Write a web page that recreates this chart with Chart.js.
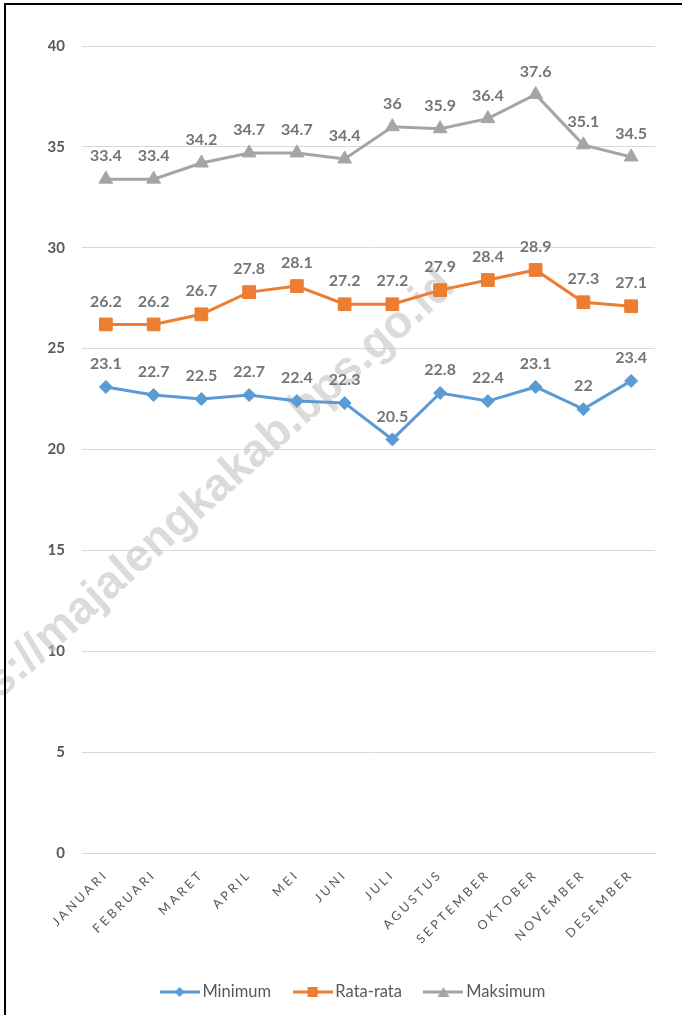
<!DOCTYPE html>
<html>
<head>
<meta charset="utf-8">
<script src="https://cdn.jsdelivr.net/npm/chart.js@4.4.0/dist/chart.umd.min.js"></script>
<style>
  html, body { margin: 0; padding: 0; background: #fff; }
  #wrap { width: 687px; height: 1015px; position: relative; }
</style>
</head>
<body>
<div id="wrap"><canvas id="canvas"></canvas></div>
<script>
// DATA
const months = ['JANUARI', 'FEBRUARI', 'MARET', 'APRIL', 'MEI', 'JUNI', 'JULI', 'AGUSTUS', 'SEPTEMBER', 'OKTOBER', 'NOVEMBER', 'DESEMBER'];
const minimum = [23.1, 22.7, 22.5, 22.7, 22.4, 22.3, 20.5, 22.8, 22.4, 23.1, 22, 23.4];
const rataRata = [26.2, 26.2, 26.7, 27.8, 28.1, 27.2, 27.2, 27.9, 28.4, 28.9, 27.3, 27.1];
const maksimum = [33.4, 33.4, 34.2, 34.7, 34.7, 34.4, 36, 35.9, 36.4, 37.6, 35.1, 34.5];
const yTicks = [0, 5, 10, 15, 20, 25, 30, 35, 40];

const BLUE = '#5B9BD5', ORANGE = '#ED7D31', GREY = '#A5A5A5';

// legend icons: short line with the marker in the middle
function makeIcon(color, shape) {
    const c = document.createElement('canvas');
    c.width = 40; c.height = 16;
    const g = c.getContext('2d');
    g.strokeStyle = color; g.fillStyle = color; g.lineWidth = 3;
    g.beginPath(); g.moveTo(0, 8); g.lineTo(40, 8); g.stroke();
    g.beginPath();
    if (shape === 'diamond') {
        g.moveTo(20, 3); g.lineTo(25, 8); g.lineTo(20, 13); g.lineTo(15, 8);
    } else if (shape === 'square') {
        g.rect(15, 3, 10, 10);
    } else {
        g.moveTo(20, 3); g.lineTo(26, 13); g.lineTo(14, 13);
    }
    g.closePath(); g.fill();
    return c;
}
const legendIcons = [makeIcon(BLUE, 'diamond'), makeIcon(ORANGE, 'square'), makeIcon(GREY, 'triangle')];

// value labels above each point, plus watermark / frame
const extras = {
    id: 'extras',
    beforeDatasetsDraw(chart) {
        const ctx = chart.ctx;
        ctx.save();
        ctx.translate(50, 655);
        ctx.rotate(-42 * Math.PI / 180);
        ctx.font = 'bold 46px "Liberation Sans", Arial, sans-serif';
        ctx.fillStyle = 'rgba(195,195,195,0.6)';
        ctx.textBaseline = 'alphabetic';
        const pre = ctx.measureText('https://').width;
        ctx.fillText('https://majalengkakab.bps.go.id', -pre, 0);
        ctx.restore();
    },
    afterDatasetsDraw(chart) {
        const ctx = chart.ctx;
        ctx.save();
        ctx.font = 'bold 16px Lato, sans-serif';
        ctx.fillStyle = '#757575';
        ctx.textAlign = 'center';
        ctx.textBaseline = 'middle';
        chart.data.datasets.forEach((ds, i) => {
            chart.getDatasetMeta(i).data.forEach((pt, j) => {
                ctx.fillText(String(ds.data[j]), pt.x, pt.y - 23);
            });
        });
        ctx.restore();
        // x tick labels are drawn next (z: 1), spaced out
        ctx.letterSpacing = '3px';
    },
    afterDraw(chart) {
        const ctx = chart.ctx;
        ctx.letterSpacing = '0px';
        ctx.save();
        ctx.strokeStyle = '#000';
        ctx.lineWidth = 2;
        ctx.beginPath();
        ctx.moveTo(5, 1015); ctx.lineTo(5, 4); ctx.lineTo(682, 4);
        ctx.stroke();
        ctx.restore();
    }
};

const ctx = document.getElementById('canvas').getContext('2d');

const myChart = new Chart(ctx, {
    type: 'line',
    data: {
        labels: months,
        datasets: [{
            label: 'Minimum',
            data: minimum,
            borderColor: BLUE,
            backgroundColor: BLUE,
            borderWidth: 3,
            pointStyle: 'rectRot',
            pointRadius: 6.5,
            pointBorderWidth: 1
        }, {
            label: 'Rata-rata',
            data: rataRata,
            borderColor: ORANGE,
            backgroundColor: ORANGE,
            borderWidth: 3,
            pointStyle: 'rect',
            pointRadius: 9,
            pointBorderWidth: 1
        }, {
            label: 'Maksimum',
            data: maksimum,
            borderColor: GREY,
            backgroundColor: GREY,
            borderWidth: 3,
            pointStyle: 'triangle',
            pointRadius: 8,
            pointBorderWidth: 1
        }]
    },
    options: {
        responsive: true,
        maintainAspectRatio: false,
        animation: false,
        layout: { padding: { top: 46, right: 24.5, bottom: 4.75, left: 48 } },
        plugins: {
            tooltip: { enabled: false },
            legend: {
                position: 'bottom',
                labels: {
                    usePointStyle: true,
                    pointStyleWidth: 29,
                    padding: 27,
                    color: '#595959',
                    font: { family: 'Lato', size: 16.5 },
                    generateLabels(chart) {
                        const items = Chart.defaults.plugins.legend.labels.generateLabels(chart);
                        items.forEach((it, i) => { it.pointStyle = legendIcons[i]; });
                        return items;
                    }
                }
            }
        },
        scales: {
            x: {
                offset: true,
                grid: { display: false },
                border: { color: '#d9d9d9' },
                ticks: {
                    z: 1,
                    minRotation: 45,
                    maxRotation: 45,
                    padding: 6,
                    color: '#595959',
                    font: { family: 'Lato', size: 12.5 }
                },
                afterFit(scale) { scale.height = 103.75; }
            },
            y: {
                min: 0,
                max: 40,
                afterBuildTicks(scale) { scale.ticks = yTicks.map(v => ({ value: v })); },
                grid: { color: '#d9d9d9', drawTicks: false },
                border: { display: false },
                ticks: {
                    padding: 17,
                    color: '#595959',
                    font: { family: 'Lato', size: 15, weight: 'bold' }
                },
                afterFit(scale) { scale.width = 34; }
            },
            // empty right-hand axis, only keeps the plot's right edge in place
            yRight: {
                position: 'right',
                display: true,
                grid: { display: false },
                border: { display: false },
                ticks: { display: false },
                afterFit(scale) { scale.width = 7.5; }
            }
        }
    },
    plugins: [extras]
});
</script>
</body>
</html>
